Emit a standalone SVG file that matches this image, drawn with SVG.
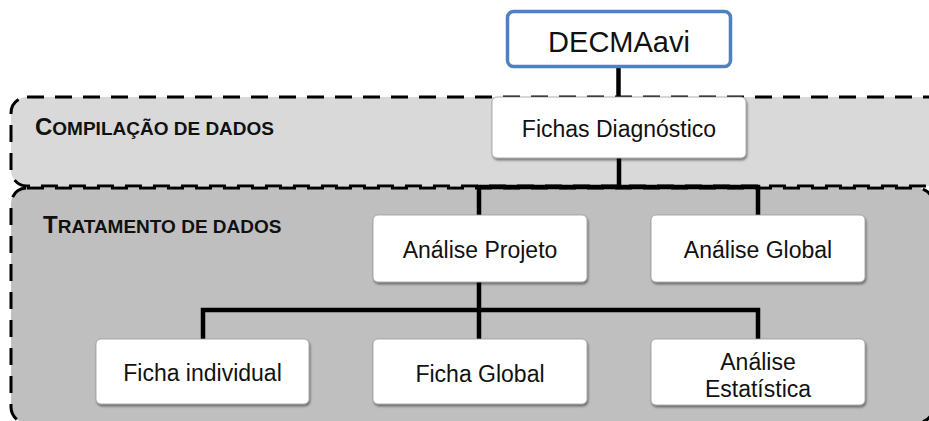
<svg xmlns="http://www.w3.org/2000/svg" width="929" height="421" viewBox="0 0 929 421">
<defs>
<filter id="sh" x="-10%" y="-10%" width="125%" height="135%">
<feDropShadow dx="1" dy="2" stdDeviation="1.2" flood-color="#000" flood-opacity="0.45"/>
</filter>
<style>
.region{stroke:#000;stroke-width:3;stroke-dasharray:17 11;}
.box{fill:#fff;stroke:#9a9a9a;stroke-width:0.8;filter:url(#sh);}
.t{font-family:"Liberation Sans",Arial,sans-serif;font-size:23px;fill:#111;text-anchor:middle;}
.big{font-size:29px;}
.lbl{font-family:"Liberation Sans",Arial,sans-serif;font-weight:bold;fill:#111;}
.conn{fill:none;stroke:#000;stroke-width:4.5;stroke-linejoin:miter;stroke-linecap:square;}
</style>
</defs>
<rect width="929" height="421" fill="#fff"/>
<g id="region-compilacao">
<rect class="region" x="11" y="97" width="960" height="89" rx="16" fill="#D9D9D9"/>
<text class="lbl" x="35" y="135"><tspan font-size="24">C</tspan><tspan font-size="19">OMPILAÇÃO DE DADOS</tspan></text>
</g>
<g id="region-tratamento">
<rect class="region" x="11" y="188" width="922" height="235" rx="16" fill="#BFBFBF"/>
<text class="lbl" x="43" y="233"><tspan font-size="24">T</tspan><tspan font-size="19">RATAMENTO DE DADOS</tspan></text>
</g>
<g id="connectors">
<path class="conn" d="M618.5 67 V97"/>
<path class="conn" d="M619 158 V187 M479 215 V187 H758 V215"/>
<path class="conn" d="M479 282 V339 M203 339 V310 H758 V339"/>
</g>
<g id="node-decmaavi">
<rect x="507.5" y="11.5" width="223" height="55" rx="6" fill="#fff" stroke="#4F81BD" stroke-width="3.5"/>
<text class="t big" x="619" y="52">DECMAavi</text>
</g>
<g id="node-fichas-diagnostico">
<rect class="box" x="492" y="97" width="254" height="61" rx="5"/>
<text class="t" x="619" y="137">Fichas Diagnóstico</text>
</g>
<g id="node-analise-projeto">
<rect class="box" x="373" y="215" width="214" height="67" rx="5"/>
<text class="t" x="480" y="258">Análise Projeto</text>
</g>
<g id="node-analise-global">
<rect class="box" x="651" y="215" width="214" height="67" rx="5"/>
<text class="t" x="758" y="258">Análise Global</text>
</g>
<g id="node-ficha-individual">
<rect class="box" x="96" y="339" width="213" height="65" rx="5"/>
<text class="t" x="202.5" y="381">Ficha individual</text>
</g>
<g id="node-ficha-global">
<rect class="box" x="373" y="339" width="214" height="65" rx="5"/>
<text class="t" x="480" y="382">Ficha Global</text>
</g>
<g id="node-analise-estatistica">
<rect class="box" x="651" y="339" width="214" height="66" rx="5"/>
<text class="t" x="758" y="370">Análise</text>
<text class="t" x="758" y="397">Estatística</text>
</g>
</svg>
